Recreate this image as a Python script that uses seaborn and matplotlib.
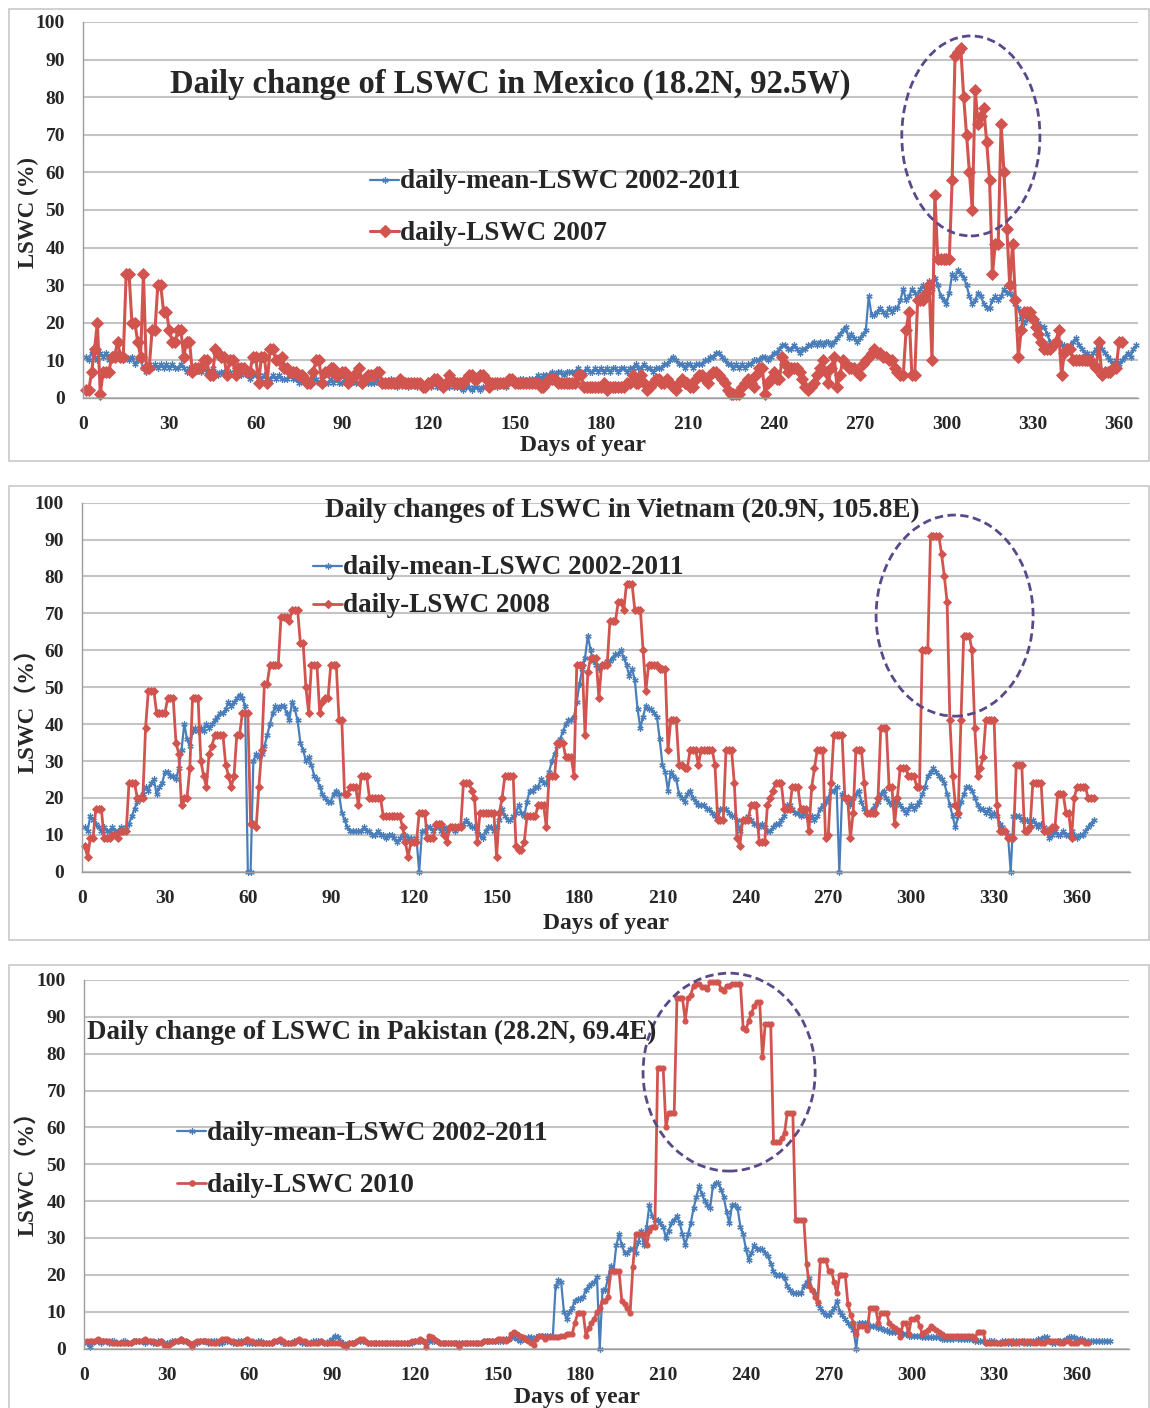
import numpy as np
import pandas as pd
import matplotlib
matplotlib.use("Agg")
import matplotlib.pyplot as plt
import seaborn as sns
from matplotlib.patches import Ellipse, Rectangle
from matplotlib.lines import Line2D

# ---------------- data (LSWC %, one value per day) ----------------
mexico_red_2007 = [
    2, 2, 7, 13, 20, 1, 7, 7, 7, 11,
    11, 15, 11, 11, 33, 33, 20, 20, 15, 11,
    33, 8, 8, 18, 18, 30, 30, 23, 23, 18,
    15, 15, 18, 18, 11, 15, 15, 7, 8, 8,
    8, 10, 10, 6, 6, 13, 12, 11, 11, 6,
    10, 10, 6, 8, 8, 8, 7, 7, 11, 11,
    4, 11, 11, 4, 13, 13, 10, 10, 11, 8,
    8, 7, 7, 7, 6, 6, 5, 4, 4, 7,
    10, 10, 4, 7, 7, 8, 8, 6, 6, 7,
    7, 4, 5, 6, 6, 8, 4, 5, 6, 6,
    6, 7, 7, 4, 4, 4, 4, 4, 4, 5,
    4, 4, 4, 4, 4, 4, 4, 3, 3, 4,
    4, 5, 5, 4, 3, 4, 6, 5, 4, 4,
    4, 4, 5, 6, 6, 5, 5, 6, 6, 5,
    3, 4, 4, 4, 4, 4, 4, 5, 5, 4,
    4, 4, 4, 4, 4, 4, 4, 4, 3, 3,
    4, 5, 5, 5, 4, 4, 4, 4, 4, 4,
    4, 6, 6, 3, 3, 3, 3, 3, 3, 3,
    4, 2, 3, 3, 3, 3, 3, 3, 4, 4,
    6, 4, 4, 6, 4, 2, 3, 4, 5, 5,
    4, 4, 5, 4, 3, 2, 4, 5, 4, 4,
    3, 3, 5, 6, 6, 5, 4, 6, 7, 7,
    6, 5, 4, 2, 1, 1, 1, 1, 3, 4,
    5, 4, 3, 6, 8, 8, 1, 4, 5, 7,
    5, 5, 11, 9, 7, 8, 8, 8, 7, 5,
    3, 2, 3, 4, 6, 8, 10, 7, 4, 8,
    11, 3, 6, 10, 9, 8, 8, 8, 7, 6,
    9, 10, 11, 12, 13, 12, 12, 11, 11, 10,
    10, 8, 7, 6, 6, 18, 23, 6, 6, 26,
    26, 26, 28, 30, 10, 54, 37, 37, 37, 37,
    37, 58, 91, 92, 93, 80, 70, 60, 50, 82,
    73, 75, 77, 68, 58, 33, 41, 41, 73, 60,
    45, 30, 41, 26, 11, 18, 23, 23, 23, 21,
    19, 17, 15, 13, 13, 13, 14, 15, 18, 6,
    12, 13, 13, 10, 10, 10, 10, 10, 10, 10,
    9, 8, 15, 6, 7, 7, 7, 8, 8, 15,
    15,
]
mexico_mean = [
    11, 10, 12, 11, 10, 12, 11, 12, 10, 11,
    12, 11, 12, 10, 11, 10, 11, 9, 10, 10,
    8, 7, 9, 8, 9, 8, 9, 8, 9, 8,
    9, 8, 8, 9, 8, 7, 8, 8, 7, 8,
    7, 8, 7, 7, 8, 7, 6, 7, 7, 6,
    7, 6, 7, 6, 6, 7, 6, 5, 6, 6,
    6, 5, 6, 5, 5, 6, 5, 6, 5, 5,
    5, 6, 5, 5, 4, 5, 5, 4, 5, 5,
    5, 4, 5, 4, 4, 5, 4, 5, 4, 4,
    5, 4, 4, 5, 4, 4, 5, 4, 4, 4,
    4, 5, 4, 4, 4, 4, 5, 4, 3, 4,
    4, 4, 3, 4, 4, 3, 4, 3, 3, 4,
    3, 4, 3, 3, 4, 3, 3, 4, 3, 3,
    3, 2, 3, 3, 2, 3, 3, 2, 3, 3,
    3, 3, 4, 3, 4, 4, 3, 4, 4, 4,
    4, 5, 5, 4, 5, 5, 5, 6, 5, 6,
    6, 6, 7, 6, 7, 7, 6, 7, 7, 7,
    7, 8, 7, 7, 8, 7, 7, 8, 7, 8,
    7, 8, 7, 8, 8, 7, 8, 8, 7, 8,
    8, 9, 8, 8, 9, 8, 8, 7, 8, 8,
    8, 9, 9, 10, 11, 10, 9, 9, 8, 9,
    9, 8, 9, 9, 9, 10, 10, 11, 11, 12,
    12, 11, 10, 9, 9, 8, 9, 8, 9, 8,
    9, 9, 10, 10, 10, 11, 11, 10, 11, 12,
    12, 13, 14, 14, 13, 13, 14, 13, 12, 13,
    13, 14, 14, 15, 14, 15, 14, 15, 15, 14,
    15, 16, 17, 18, 19, 16, 17, 16, 15, 16,
    17, 18, 27, 22, 22, 23, 24, 23, 22, 24,
    23, 24, 24, 26, 29, 26, 27, 29, 28, 27,
    29, 30, 28, 31, 29, 32, 30, 27, 26, 25,
    28, 33, 32, 34, 33, 32, 30, 27, 25, 26,
    28, 27, 25, 24, 24, 26, 27, 26, 27, 29,
    28, 28, 27, 25, 24, 21, 20, 21, 22, 21,
    20, 20, 19, 19, 17, 15, 14, 14, 15, 14,
    14, 13, 14, 15, 16, 14, 13, 12, 12, 11,
    12, 13, 14, 13, 12, 11, 10, 9, 10, 9,
    10, 11, 12, 11, 13, 14,
]
vietnam_red_2008 = [
    7, 4, 9, 9, 17, 17, 17, 9, 9, 9,
    10, 10, 9, 11, 11, 11, 24, 24, 24, 20,
    20, 20, 39, 49, 49, 49, 43, 43, 43, 43,
    47, 47, 47, 35, 32, 18, 20, 20, 28, 47,
    47, 47, 30, 26, 23, 32, 34, 37, 37, 37,
    37, 29, 26, 23, 26, 37, 37, 43, 43, 43,
    13, 13, 12, 23, 33, 51, 51, 56, 56, 56,
    56, 69, 69, 69, 68, 71, 71, 71, 62, 62,
    50, 43, 56, 56, 56, 43, 46, 47, 47, 56,
    56, 56, 41, 41, 21, 21, 23, 23, 23, 18,
    26, 26, 26, 20, 20, 20, 20, 20, 15, 15,
    15, 15, 15, 15, 15, 12, 8, 4, 8, 8,
    8, 16, 16, 16, 9, 9, 9, 13, 13, 13,
    10, 8, 12, 12, 12, 12, 12, 24, 24, 24,
    22, 20, 8, 16, 16, 16, 16, 16, 16, 4,
    16, 20, 26, 26, 26, 26, 7, 6, 6, 8,
    15, 15, 15, 15, 18, 18, 18, 12, 26, 26,
    26, 35, 35, 35, 31, 31, 31, 26, 56, 56,
    56, 37, 54, 58, 58, 58, 47, 56, 56, 56,
    68, 68, 68, 73, 73, 71, 78, 78, 78, 71,
    71, 71, 60, 49, 56, 56, 56, 56, 55, 55,
    55, 33, 41, 41, 41, 29, 29, 28, 28, 33,
    33, 33, 29, 33, 33, 33, 33, 33, 29, 14,
    14, 14, 33, 33, 33, 24, 9, 7, 14, 14,
    14, 18, 18, 18, 8, 8, 8, 18, 20, 22,
    24, 24, 24, 17, 17, 17, 23, 23, 23, 17,
    17, 17, 11, 23, 28, 33, 33, 33, 9, 10,
    24, 37, 37, 37, 37, 20, 20, 9, 16, 33,
    33, 33, 24, 16, 16, 16, 16, 20, 39, 39,
    39, 23, 23, 13, 20, 28, 28, 28, 26, 26,
    26, 23, 23, 60, 60, 60, 91, 91, 91, 91,
    86, 80, 73, 41, 26, 18, 16, 41, 64, 64,
    64, 60, 39, 26, 28, 31, 41, 41, 41, 41,
    18, 11, 11, 11, 9, 9, 9, 29, 29, 29,
    11, 11, 12, 24, 24, 24, 24, 11, 11, 11,
    12, 12, 21, 21, 21, 16, 16, 9, 20, 23,
    23, 23, 23, 20, 20, 20,
]
vietnam_mean = [
    12, 11, 15, 14, 13, 12, 11, 12, 11, 11,
    12, 11, 11, 12, 11, 12, 13, 15, 17, 19,
    20, 21, 23, 22, 24, 25, 21, 23, 24, 27,
    27, 26, 26, 25, 28, 33, 40, 36, 34, 38,
    39, 38, 39, 38, 40, 39, 40, 41, 42, 43,
    43, 44, 46, 45, 46, 47, 48, 47, 45, 0,
    0, 30, 32, 31, 32, 34, 37, 40, 43, 45,
    44, 45, 45, 43, 41, 46, 44, 41, 35, 33,
    30, 31, 29, 26, 25, 23, 21, 20, 19, 19,
    21, 22, 21, 16, 14, 12, 11, 11, 11, 11,
    11, 12, 11, 11, 10, 10, 11, 10, 10, 9,
    10, 10, 9, 8, 9, 10, 10, 9, 9, 8,
    9, 0, 11, 11, 12, 12, 11, 12, 12, 11,
    12, 11, 12, 12, 11, 12, 12, 13, 14, 13,
    12, 12, 11, 10, 9, 11, 12, 12, 11, 12,
    14, 17, 15, 14, 14, 15, 16, 18, 16, 15,
    19, 22, 22, 23, 23, 25, 24, 24, 27, 30,
    32, 34, 36, 38, 40, 41, 41, 42, 46, 51,
    55, 58, 64, 60, 57, 56, 55, 56, 56, 57,
    57, 58, 59, 59, 60, 58, 56, 53, 55, 52,
    44, 39, 42, 45, 44, 44, 43, 42, 36, 29,
    27, 22, 27, 26, 25, 21, 20, 19, 21, 22,
    20, 19, 18, 18, 18, 17, 17, 16, 15, 14,
    17, 17, 17, 16, 15, 15, 14, 11, 14, 14,
    15, 14, 13, 13, 12, 13, 12, 11, 11, 12,
    13, 13, 14, 15, 18, 18, 17, 16, 16, 15,
    16, 15, 14, 15, 14, 15, 17, 18, 19, 20,
    22, 22, 23, 0, 21, 20, 19, 18, 20, 21,
    22, 19, 17, 16, 16, 17, 18, 19, 21, 22,
    20, 19, 18, 19, 20, 18, 17, 16, 17, 18,
    17, 18, 19, 21, 23, 26, 27, 28, 27, 26,
    25, 24, 21, 18, 15, 12, 15, 19, 21, 23,
    23, 22, 20, 18, 17, 17, 16, 17, 15, 16,
    15, 13, 12, 11, 10, 0, 15, 15, 15, 14,
    14, 14, 13, 14, 13, 12, 13, 12, 11, 9,
    10, 11, 10, 10, 11, 10, 10, 11, 10, 9,
    10, 10, 11, 12, 13, 14,
]
pakistan_red_2010 = [
    2, 2, 2, 2, 2.5, 2, 2, 2, 2, 1.5,
    1.5, 1.5, 1.5, 1.5, 1.5, 1.5, 1.5, 2, 2, 2,
    2, 2.5, 2, 2, 2, 1.5, 1.5, 2, 1, 1,
    1, 1.5, 2, 2, 2.5, 2, 2, 1.5, 0.5, 1.5,
    2, 2, 2, 2, 2, 1.5, 1.5, 1.5, 2, 2.5,
    2.5, 2.5, 2, 2, 1.5, 1.5, 1.5, 2, 2.5, 2,
    2, 1.5, 1.5, 1.5, 1.5, 1.5, 1.5, 1.5, 2, 2,
    2.5, 2, 1.5, 1.5, 1.5, 1.5, 2, 2.5, 2, 2,
    1.5, 1.5, 1.5, 1.5, 1.5, 2, 1.5, 1.5, 1.5, 1.5,
    1.5, 1.5, 1.5, 1, 0.3, 1.5, 1.5, 1.5, 2, 2.5,
    2.5, 2, 1.5, 1.5, 1.5, 1.5, 1.5, 1.5, 1.5, 1.5,
    1.5, 1.5, 1.5, 1.5, 1.5, 1.5, 1.5, 1.5, 2, 2,
    2, 2.5, 2, 0.5, 3.5, 3, 2.5, 2, 1.5, 1.5,
    1.5, 1.5, 1.5, 1.5, 1.5, 0.5, 1.5, 1.5, 1.5, 1.5,
    1.5, 1.5, 1.5, 1.5, 2, 2, 2, 2, 2, 2.5,
    2.5, 2.5, 2, 2.5, 4, 4.5, 4, 3.5, 3, 2.5,
    2, 1.5, 1, 2.5, 3.5, 3.5, 2.5, 3, 3, 3,
    3, 3, 3.5, 3.5, 4, 4, 4, 7, 9.5, 9.5,
    9.5, 3.5, 5.5, 7, 8, 10, 11, 13, 13, 14,
    21, 21, 21, 21, 13, 12, 11, 9.5, 22, 31,
    31, 31, 31, 28, 32, 33, 33, 76, 76, 76,
    60, 64, 64, 64, 95, 95, 95, 89, 95, 96,
    98.5, 99, 99, 98, 98, 97.5, 99.5, 99.5, 99.5, 99.5,
    97.5, 97, 98.5, 98.5, 99, 99, 99, 99, 87, 86.5,
    89, 91, 93, 94, 94, 79, 88, 88, 88, 56,
    56, 56, 57, 58.5, 64, 64, 64, 35, 35, 35,
    35, 23, 17, 16, 14, 12.5, 24, 24, 24, 21,
    21, 18, 15, 20, 20, 20, 12, 9, 7, 4,
    6, 6, 6, 5, 11, 11, 11, 7, 9.5, 9.5,
    9.5, 7, 6, 5.5, 5, 3, 7, 7, 4, 8,
    8, 8.5, 6, 4, 4.5, 5, 6, 5.5, 5, 4.5,
    4, 3.5, 3.5, 3.5, 3.5, 3.5, 3.5, 3.5, 3.5, 3.5,
    3.5, 3.5, 2.5, 4.5, 4.5, 4.5, 1.5, 1.5, 1.5, 1.5,
    1.5, 1.5, 1.5, 1.5, 2, 2, 1.5, 1.5, 2, 2,
    1.5, 2, 2, 1.5, 1.5, 2, 1.5, 1.5, 2, 2,
    2, 2, 2, 1.5, 1.5, 2, 2, 1.5, 1.5, 1.5,
    2, 2, 1.5, 1.5,
]
pakistan_mean = [
    1.5, 0.5, 1.5, 2, 2, 1.5, 2, 2, 1.5, 2,
    2, 1.5, 1.5, 2, 2, 1.5, 1.5, 2, 2, 2,
    2, 1.5, 2, 2, 1.5, 1.5, 2, 2, 1.5, 1.5,
    1.5, 2, 2, 2, 2.5, 2, 2, 1.5, 1, 1.5,
    1.5, 2, 2, 2, 1.5, 2, 2, 2, 1.5, 1.5,
    2, 2, 2, 1.5, 1.5, 2, 2, 2, 1.5, 1.5,
    1.5, 1.5, 2, 2, 1.5, 1.5, 1.5, 1.5, 2, 2,
    2, 1.5, 1.5, 1.5, 1.5, 2, 2, 2, 1.5, 1.5,
    1.5, 1.5, 2, 2, 2, 2, 1.5, 1.5, 2, 2.5,
    3.5, 3, 2, 1.5, 1, 1.5, 1.5, 1.5, 2, 2,
    2, 2, 1.5, 1.5, 1.5, 1.5, 1.5, 1.5, 1.5, 1.5,
    1.5, 1.5, 1.5, 1.5, 1.5, 1.5, 1.5, 1.5, 1.5, 2,
    2, 2, 2, 1.5, 2, 2, 2, 2, 1.5, 1.5,
    1.5, 1.5, 1.5, 1.5, 1.5, 1.5, 1.5, 1.5, 1.5, 1.5,
    1.5, 1.5, 1.5, 1.5, 2, 2, 2, 2, 2, 2,
    2, 2, 2.5, 2.5, 3, 3, 2.5, 2, 2.5, 2.5,
    3, 3, 2.5, 3, 3.5, 3.5, 3.5, 3.5, 3.5, 3.5,
    17, 18.5, 18, 10, 8, 10, 11, 13, 13.5, 13.5,
    14, 16, 17, 17.5, 18, 19.5, 0, 16, 16, 19,
    22.5, 21, 28, 31, 28, 26, 26, 27, 27, 26,
    29, 32, 28, 33, 39, 36, 35, 35, 34, 33,
    30, 32, 34, 35, 36, 34, 31, 28, 31, 34,
    38, 41, 44, 42, 40, 39, 38, 44, 45, 45,
    43, 41, 37, 34, 39, 39, 38, 33, 31, 27,
    24, 26, 28, 27, 27, 27, 26, 25, 23, 21,
    20, 20, 20, 19, 17, 16, 15, 15, 15, 15,
    17, 18, 19, 16, 15, 12, 11, 10, 9, 9,
    10, 11, 13, 10, 9, 8, 7, 6, 5, 0,
    7, 7, 7, 7, 6, 6, 6, 5.5, 5.5, 5,
    5, 4.5, 4.5, 4.5, 4.5, 4.5, 4, 4, 3.5, 3.5,
    3.5, 3.5, 3.5, 3, 3, 3, 3, 3, 3, 3,
    2.5, 2.5, 2.5, 2.5, 2.5, 3, 2.5, 2.5, 2.5, 2.5,
    2.5, 2.5, 2, 2, 2, 2, 1.5, 2, 2, 2,
    1.5, 1.5, 2, 2, 1.5, 1.5, 2, 2, 1.5, 2,
    2, 1.5, 1.5, 2, 2, 2.5, 2.5, 3, 3, 2,
    1.5, 1.5, 2, 2, 2, 2.5, 3, 3, 3, 2.5,
    2.5, 2.5, 2, 2, 2, 2, 2, 2, 2, 2, 2, 2,
]

titles = ["Daily change of LSWC in Mexico (18.2N, 92.5W)",
          "Daily changes of LSWC in Vietnam (20.9N, 105.8E)",
          "Daily change of LSWC in Pakistan (28.2N, 69.4E)"]
legend_mean = "daily-mean-LSWC 2002-2011"
legend_years = ["daily-LSWC 2007", "daily-LSWC 2008", "daily-LSWC 2010"]
ylabels = ["LSWC (%)", "LSWC\uff08%\uff09", "LSWC\uff08%\uff09"]
xlabel = "Days of year"
x_ticks = list(range(0, 361, 30))
y_ticks = list(range(0, 101, 10))

# ---------------- style ----------------
W, H = 1150, 1408
sns.set_style("white")
SERIF = ['Liberation Serif', 'Noto Sans CJK SC', 'DejaVu Sans']
plt.rcParams['font.family'] = SERIF
BLUE = '#4a7ebb'
RED = '#d2544f'
PURPLE = '#5a4888'
GRID = '#c4c4c4'
AX = '#9c9c9c'

fig = plt.figure(figsize=(W / 100, H / 100), dpi=100)
fig.patch.set_facecolor('white')


def fx(x):
    return x / W


def fy(y):
    return 1 - y / H


def px_axes(x0, y0, x1, y1):
    return fig.add_axes([x0 / W, 1 - y1 / H, (x1 - x0) / W, (y1 - y0) / H])


panels = [
    dict(box=(9, 9, 1149, 461), ax=(83, 22, 398), ppd=2.878, xmax=366.5,
         red=mexico_red_2007, blue=mexico_mean, rmark='D', rms=5.8, rlw=2.2,
         title=(510, 84, 23.5), leg=(370, 180, 231), ylab=(28, 213),
         xlab=(583, 446), ell=(308.5, 69.7, 48, 53.2)),
    dict(box=(9, 486, 1149, 940), ax=(82, 502.7, 871.7), ppd=2.764, xmax=379,
         red=vietnam_red_2008, blue=vietnam_mean, rmark='D', rms=4.4, rlw=2.0,
         title=(622, 510, 19.5), leg=(313, 566, 604), ylab=(28, 705),
         xlab=(606, 924), ell=(315.7, 69.4, 56.8, 54.5)),
    dict(box=(9, 965, 1149, 1420), ax=(84, 980, 1348.5), ppd=2.758, xmax=379,
         red=pakistan_red_2010, blue=pakistan_mean, rmark='o', rms=3.8, rlw=2.0,
         title=(372, 1032, 19.4), leg=(177, 1131, 1183), ylab=(28, 1168),
         xlab=(577, 1397), ell=(233.9, 75.0, 62.4, 53.7)),
]

for i, p in enumerate(panels):
    bx0, by0, bx1, by1 = p['box']
    fig.add_artist(Rectangle((fx(bx0), fy(by1)), (bx1 - bx0) / W, (by1 - by0) / H,
                             transform=fig.transFigure, fill=False,
                             edgecolor='#c8c8c8', linewidth=1.2))
    x0, y0, y1 = p['ax']
    x1 = x0 + p['xmax'] * p['ppd']
    ax = px_axes(x0, y0, x1, y1)

    dfb = pd.DataFrame({'day': np.arange(1, len(p['blue']) + 1), 'lswc': p['blue']})
    dfr = pd.DataFrame({'day': np.arange(1, len(p['red']) + 1), 'lswc': p['red']})
    sns.lineplot(data=dfb, x='day', y='lswc', ax=ax, color=BLUE, linewidth=1.6,
                 marker=(6, 2, 0), markersize=4.5, markeredgecolor=BLUE,
                 markerfacecolor=BLUE, markeredgewidth=0.9,
                 estimator=None, sort=False, clip_on=False, legend=False)
    sns.lineplot(data=dfr, x='day', y='lswc', ax=ax, color=RED, linewidth=p['rlw'],
                 marker=p['rmark'], markersize=p['rms'], markeredgecolor=RED,
                 markerfacecolor=RED, markeredgewidth=0.6,
                 estimator=None, sort=False, clip_on=False, legend=False)

    ax.set_xlim(0, p['xmax'])
    ax.set_ylim(0, 100)
    ax.set_xticks(x_ticks)
    ax.set_yticks(y_ticks)
    ax.set_xticklabels([str(t) for t in x_ticks])
    ax.set_yticklabels([str(t) for t in y_ticks])
    ax.set_xlabel('')
    ax.set_ylabel('')
    ax.grid(False)
    ax.yaxis.grid(True, color=GRID, linewidth=1.5)
    ax.set_axisbelow(True)
    for s in ['top', 'right']:
        ax.spines[s].set_visible(False)
    for s in ['left', 'bottom']:
        ax.spines[s].set_color(AX)
        ax.spines[s].set_linewidth(1.0)
    ax.tick_params(axis='both', direction='out', length=4, width=1.0, color=AX,
                   labelsize=14, pad=9)
    for lab in ax.get_xticklabels() + ax.get_yticklabels():
        lab.set_fontweight('bold')
        lab.set_family(SERIF)

    cx, cy, ew, eh = p['ell']
    ax.add_patch(Ellipse((cx, cy), ew, eh, fill=False, edgecolor=PURPLE,
                         linewidth=2.0, linestyle=(0, (3, 1.6)), clip_on=False,
                         zorder=5))

    tx, ty, ts = p['title']
    fig.text(fx(tx), fy(ty), titles[i], ha='center', va='center', fontsize=ts,
             fontweight='bold', family=SERIF)

    lx, ly1, ly2 = p['leg']
    for (yy, col, mk, ms, lw, lab) in [
            (ly1, BLUE, (6, 2, 0), 4.5, 1.6, legend_mean),
            (ly2, RED, p['rmark'], p['rms'], p['rlw'], legend_years[i])]:
        fig.add_artist(Line2D([fx(lx), fx(lx + 29)], [fy(yy), fy(yy)],
                              transform=fig.transFigure, color=col, linewidth=lw))
        fig.add_artist(Line2D([fx(lx + 14.5)], [fy(yy)], transform=fig.transFigure,
                              color=col, marker=mk, markersize=ms,
                              markeredgecolor=col, markerfacecolor=col,
                              markeredgewidth=0.9))
        fig.text(fx(lx + 30), fy(yy + 2), lab, ha='left', va='center', fontsize=19.5,
                 fontweight='bold', family=SERIF)

    yx, yy = p['ylab']
    fig.text(fx(yx), fy(yy), ylabels[i], rotation=90, ha='center', va='center',
             fontsize=16.5, fontweight='bold', family=SERIF)
    xx, xy = p['xlab']
    fig.text(fx(xx), fy(xy), xlabel, ha='center', va='center', fontsize=17,
             fontweight='bold', family=SERIF)

fig.savefig('out.png', dpi=100, facecolor='white')
